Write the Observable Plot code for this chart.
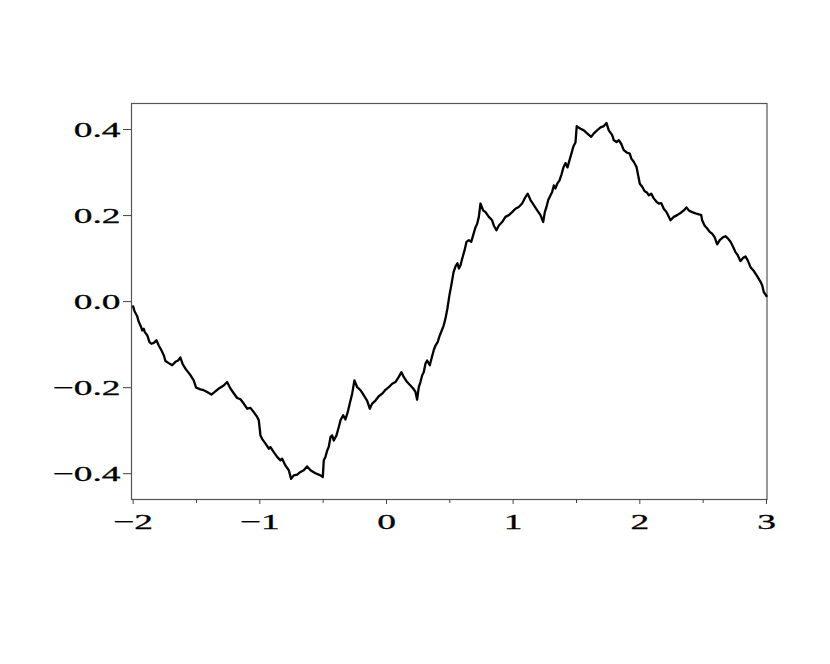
<!DOCTYPE html>
<html><head><meta charset="utf-8">
<script src="https://cdn.jsdelivr.net/npm/d3@7"></script>
<script src="https://cdn.jsdelivr.net/npm/@observablehq/plot@0.6"></script>
<style>body{margin:0;background:#fff}</style>
</head><body><div id="chart"></div>
<script>
const xs = [
-2.000,-1.990,-1.968,-1.956,-1.937,-1.929,-1.916,-1.908,-1.889,-1.871,
-1.856,-1.837,-1.816,-1.798,-1.777,-1.758,-1.745,-1.719,-1.692,-1.666,
-1.645,-1.627,-1.608,-1.587,-1.566,-1.548,-1.522,-1.503,-1.469,-1.443,
-1.416,-1.382,-1.356,-1.324,-1.285,-1.258,-1.232,-1.206,-1.179,-1.153,
-1.127,-1.100,-1.074,-1.048,-1.021,-1.008,-0.995,-0.982,-0.955,-0.929,
-0.916,-0.890,-0.863,-0.837,-0.824,-0.798,-0.771,-0.753,-0.732,-0.705,
-0.679,-0.653,-0.626,-0.600,-0.561,-0.521,-0.503,-0.495,-0.482,-0.468,
-0.456,-0.442,-0.429,-0.416,-0.395,-0.377,-0.363,-0.342,-0.324,-0.306,
-0.290,-0.271,-0.253,-0.231,-0.205,-0.179,-0.153,-0.132,-0.113,-0.087,
-0.061,-0.034,-0.008,0.018,0.045,0.071,0.097,0.118,0.136,0.163,
0.189,0.211,0.229,0.242,0.255,0.268,0.282,0.294,0.308,0.321,
0.342,0.355,0.373,0.387,0.403,0.418,0.434,0.450,0.466,0.481,
0.497,0.513,0.529,0.545,0.560,0.572,0.584,0.598,0.616,0.632,
0.650,0.669,0.684,0.703,0.716,0.729,0.742,0.763,0.782,0.808,
0.834,0.847,0.868,0.887,0.913,0.939,0.966,0.992,1.018,1.044,
1.071,1.097,1.115,1.137,1.163,1.190,1.216,1.237,1.250,1.263,
1.277,1.295,1.308,1.321,1.334,1.348,1.366,1.382,1.397,1.413,
1.429,1.445,1.461,1.476,1.492,1.502,1.520,1.532,1.558,1.584,
1.616,1.637,1.663,1.690,1.716,1.737,1.755,1.782,1.795,1.816,
1.834,1.853,1.873,1.900,1.921,1.932,1.952,1.974,1.984,2.000,
2.019,2.037,2.058,2.071,2.090,2.110,2.132,2.150,2.169,2.189,
2.211,2.229,2.242,2.268,2.295,2.321,2.347,2.368,2.387,2.413,
2.440,2.466,2.485,2.492,2.511,2.532,2.552,2.571,2.590,2.611,
2.631,2.658,2.676,2.695,2.716,2.737,2.755,2.773,2.795,2.816,
2.834,2.852,2.874,2.895,2.913,2.931,2.953,2.966,2.979,3.000
];
const ys = [
-0.011,-0.022,-0.034,-0.047,-0.059,-0.067,-0.063,-0.071,-0.078,-0.094,
-0.098,-0.096,-0.090,-0.102,-0.113,-0.125,-0.138,-0.143,-0.148,-0.140,
-0.137,-0.130,-0.146,-0.156,-0.164,-0.171,-0.183,-0.200,-0.204,-0.206,
-0.210,-0.216,-0.210,-0.202,-0.195,-0.187,-0.202,-0.213,-0.224,-0.227,
-0.237,-0.249,-0.247,-0.257,-0.268,-0.276,-0.311,-0.319,-0.330,-0.342,
-0.338,-0.350,-0.361,-0.369,-0.365,-0.381,-0.392,-0.412,-0.404,-0.402,
-0.396,-0.392,-0.383,-0.392,-0.399,-0.404,-0.408,-0.369,-0.361,-0.346,
-0.338,-0.315,-0.311,-0.323,-0.311,-0.292,-0.276,-0.264,-0.274,-0.257,
-0.237,-0.214,-0.183,-0.199,-0.206,-0.218,-0.230,-0.249,-0.237,-0.230,
-0.220,-0.214,-0.205,-0.199,-0.191,-0.187,-0.175,-0.164,-0.175,-0.187,
-0.195,-0.202,-0.210,-0.228,-0.199,-0.187,-0.171,-0.164,-0.144,-0.137,
-0.148,-0.133,-0.113,-0.102,-0.095,-0.081,-0.069,-0.057,-0.039,-0.016,
0.015,0.040,0.068,0.082,0.089,0.077,0.084,0.100,0.119,0.139,
0.143,0.139,0.154,0.173,0.181,0.197,0.228,0.212,0.208,0.197,
0.189,0.177,0.166,0.177,0.185,0.197,0.201,0.208,0.216,0.220,
0.228,0.243,0.251,0.236,0.224,0.212,0.201,0.185,0.208,0.220,
0.236,0.247,0.255,0.270,0.263,0.274,0.282,0.296,0.312,0.322,
0.312,0.329,0.345,0.361,0.370,0.408,0.404,0.402,0.398,0.391,
0.383,0.391,0.398,0.405,0.408,0.415,0.398,0.387,0.375,0.371,
0.375,0.367,0.352,0.346,0.344,0.333,0.325,0.313,0.298,0.274,
0.267,0.257,0.253,0.247,0.251,0.240,0.232,0.228,0.229,0.216,
0.208,0.197,0.189,0.197,0.201,0.206,0.212,0.219,0.212,0.208,
0.205,0.203,0.201,0.189,0.177,0.170,0.162,0.158,0.150,0.133,
0.143,0.150,0.152,0.147,0.139,0.127,0.115,0.108,0.094,0.102,
0.105,0.096,0.080,0.073,0.065,0.057,0.046,0.038,0.022,0.013
];
const xTicks = [-2, -1, 0, 1, 2, 3];
const xMinorTicks = [-1.5, -0.5, 0.5, 1.5, 2.5];
const yTicks = [-0.4, -0.2, 0, 0.2, 0.4];

const data = xs.map((x, i) => ({x, y: ys[i]}));
const fmt = (d, digits) => (d < 0 ? "\u2212" : "") + Math.abs(d).toFixed(digits);

const chart = Plot.plot({
  width: 830, height: 664,
  marginLeft: 131, marginRight: 63.5, marginTop: 103, marginBottom: 165,
  style: {fontFamily: "'Liberation Serif', 'Times New Roman', serif", fontSize: "22px", background: "#fff", color: "#000"},
  x: {domain: [-2.013, 3.004]},
  y: {domain: [-0.46, 0.4605]},
  marks: [
    Plot.frame({stroke: "#555", strokeWidth: 1.2}),
    Plot.axisX(xTicks, {tickSize: 5, tickPadding: 9, tickFormat: d => fmt(d, 0), label: null, stroke: "#444", fill: "#000"}),
    Plot.axisX(xMinorTicks, {tickSize: 4, tickFormat: () => "", label: null, stroke: "#444"}),
    Plot.axisY(yTicks, {tickSize: 8, tickPadding: 3, tickFormat: d => fmt(d, 1), label: null, stroke: "#444", fill: "#000"}),
    Plot.line(data, {x: "x", y: "y", stroke: "#000", strokeWidth: 2.3})
  ]
});
document.getElementById("chart").appendChild(chart);

// horizontally widen (and slightly embolden) the tick labels, as in the reference
chart.querySelectorAll('g[aria-label$="tick label"] text').forEach(t => {
  const tr = t.getAttribute("transform");
  if (tr) {
    t.setAttribute("transform", tr + " scale(1.7,1)");
  } else {
    const x = +t.getAttribute("x") || 0, y = +t.getAttribute("y") || 0;
    t.removeAttribute("x"); t.removeAttribute("y");
    t.setAttribute("transform", `translate(${x},${y}) scale(1.7,1)`);
  }
  t.setAttribute("stroke", "#000");
  t.setAttribute("stroke-width", "0.3");
});
</script>
</body></html>
